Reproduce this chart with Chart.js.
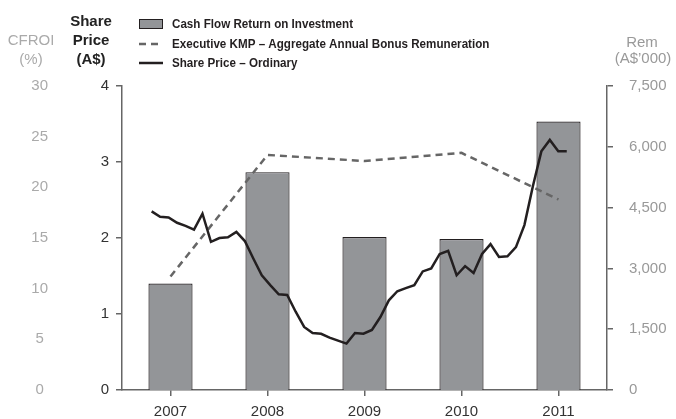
<!DOCTYPE html>
<html>
<head>
<meta charset="utf-8">
<script src="https://cdn.jsdelivr.net/npm/chart.js@4/dist/chart.umd.min.js"></script>
<style>
  html, body { margin: 0; padding: 0; background: #fff; }
  #wrap { width: 676px; height: 419px; position: relative; }
</style>
</head>
<body>
<div id="wrap"><canvas id="chart" width="676" height="419"></canvas></div>
<script>
/* datos del grafico */
const years = ["2007", "2008", "2009", "2010", "2011"];
const cfroi = [10.5, 21.5, 15.1, 14.9, 26.5];
const bonusRem = [2800, 5800, 5650, 5850, 4700];
// precio mensual aprox., desde mediados de 2006 hasta 2011
const sharePrice = [
  2.35, 2.28, 2.27, 2.2, 2.16, 2.11, 2.32, 1.95, 2.0, 2.01,
  2.08, 1.96, 1.73, 1.51, 1.38, 1.26, 1.25, 1.03, 0.83, 0.75,
  0.74, 0.69, 0.65, 0.61, 0.75, 0.74, 0.79, 0.96, 1.18, 1.3,
  1.34, 1.38, 1.56, 1.6, 1.79, 1.83, 1.51, 1.63, 1.54, 1.79,
  1.92, 1.75, 1.76, 1.88, 2.17, 2.68, 3.14, 3.29, 3.14, 3.14
];
const priceTicks = [0, 1, 2, 3, 4];
const cfroiTicks = [0, 5, 10, 15, 20, 25, 30];
const remTicks = [0, 1500, 3000, 4500, 6000, 7500];

const labelsLegend = [
  "Cash Flow Return on Investment",
  "Executive KMP \u2013 Aggregate Annual Bonus Remuneration",
  "Share Price \u2013 Ordinary"
];

const FONT = "'Liberation Sans', Arial, sans-serif";

/* titulos de ejes y leyenda dibujados a mano */
const extras = {
  id: "extras",
  afterDraw(chart) {
    const c = chart.ctx;
    c.save();
    c.textAlign = "center";
    c.textBaseline = "middle";

    c.font = "15px " + FONT;
    c.fillStyle = "#aaaaaa";
    c.fillText("CFROI", 31, 41);
    c.fillText("(%)", 31, 60);

    c.font = "bold 15px " + FONT;
    c.fillStyle = "#222";
    c.fillText("Share", 91, 22);
    c.fillText("Price", 91, 41);
    c.fillText("(A$)", 91, 60);

    c.font = "15px " + FONT;
    c.fillStyle = "#999";
    c.fillText("Rem", 642, 43);
    c.fillText("(A$\u2019000)", 643, 59);

    // leyenda
    const lx = 139, tx = 172;
    const rows = [24, 44, 63];
    c.fillStyle = "#939598";
    c.strokeStyle = "#231f20";
    c.lineWidth = 1;
    c.fillRect(lx, rows[0] - 5, 24, 10);
    c.strokeRect(lx + 0.5, rows[0] - 4.5, 23, 9);

    c.strokeStyle = "#666";
    c.lineWidth = 2.5;
    c.setLineDash([7, 5]);
    c.beginPath();
    c.moveTo(lx, rows[1]);
    c.lineTo(lx + 24, rows[1]);
    c.stroke();

    c.setLineDash([]);
    c.strokeStyle = "#231f20";
    c.beginPath();
    c.moveTo(lx, rows[2]);
    c.lineTo(lx + 24, rows[2]);
    c.stroke();

    // letra condensada: se estrecha en horizontal
    c.textAlign = "left";
    c.font = "bold 13px " + FONT;
    c.fillStyle = "#231f20";
    labelsLegend.forEach((t, i) => {
      c.save();
      c.translate(tx, rows[i]);
      c.scale(0.895, 1);
      c.fillText(t, 0, 0);
      c.restore();
    });
    c.restore();
  }
};

const ctx = document.getElementById("chart").getContext("2d");
const chart = new Chart(ctx, {
  data: {
    labels: years,
    datasets: [
      {
        type: "line",
        label: labelsLegend[2],
        data: sharePrice.map((v, i) => ({ x: i, y: v })),
        xAxisID: "x2",
        yAxisID: "y",
        borderColor: "#231f20",
        borderWidth: 2.5,
        pointRadius: 0,
        tension: 0,
        order: 0,
      },
      {
        type: "line",
        label: labelsLegend[1],
        data: bonusRem,
        xAxisID: "x",
        yAxisID: "yR",
        borderColor: "#666",
        borderWidth: 2.5,
        borderDash: [7, 5],
        pointRadius: 0,
        order: 1,
      },
      {
        type: "bar",
        label: labelsLegend[0],
        data: cfroi,
        xAxisID: "x",
        yAxisID: "yC",
        backgroundColor: "#939598",
        borderColor: "#231f20",
        borderWidth: 1.2,
        grouped: false,
        barPercentage: 0.455,
        categoryPercentage: 1,
        order: 2,
      },
    ],
  },
  options: {
    responsive: false,
    animation: false,
    layout: { padding: { top: 86, left: 0, right: 0, bottom: 0 } },
    plugins: {
      legend: { display: false },
      tooltip: { enabled: false },
    },
    scales: {
      x: {
        type: "category",
        offset: true,
        grid: { offset: false, drawOnChartArea: false, tickLength: 6, color: "#666", lineWidth: 1.5 },
        border: { color: "#666", width: 1.5 },
        ticks: { color: "#333", font: { family: FONT, size: 15 }, padding: 7 },
        afterFit: (s) => { s.height = 29; },
      },
      x2: {
        type: "linear",
        display: false,
        min: -3.5,
        max: 53.75,
      },
      y: {
        position: "left",
        weight: 0,
        min: 0,
        max: 4,
        afterBuildTicks: (s) => { s.ticks = priceTicks.map((v) => ({ value: v })); },
        grid: { drawOnChartArea: false, tickLength: 6, color: "#666", lineWidth: 1.5 },
        border: { color: "#666", width: 1.5 },
        ticks: { color: "#333", font: { family: FONT, size: 15 }, padding: 7 },
        afterFit: (s) => { s.width = 72; },
      },
      yC: {
        position: "left",
        weight: 1,
        min: 0,
        max: 30,
        afterBuildTicks: (s) => { s.ticks = cfroiTicks.map((v) => ({ value: v })); },
        grid: { display: false, drawTicks: false },
        border: { display: false },
        ticks: { color: "#aaaaaa", font: { family: FONT, size: 15 }, padding: 2, crossAlign: "center" },
        afterFit: (s) => { s.width = 50; },
      },
      yR: {
        position: "right",
        min: 0,
        max: 7500,
        afterBuildTicks: (s) => { s.ticks = remTicks.map((v) => ({ value: v })); },
        grid: { drawOnChartArea: false, tickLength: 6, color: "#666", lineWidth: 1.5 },
        border: { color: "#666", width: 1.5 },
        ticks: {
          color: "#999",
          font: { family: FONT, size: 15 },
          padding: 16,
          callback: (v) => v.toLocaleString("en-US"),
        },
        afterFit: (s) => { s.width = 69; },
      },
    },
  },
  plugins: [extras],
});
</script>
</body>
</html>
